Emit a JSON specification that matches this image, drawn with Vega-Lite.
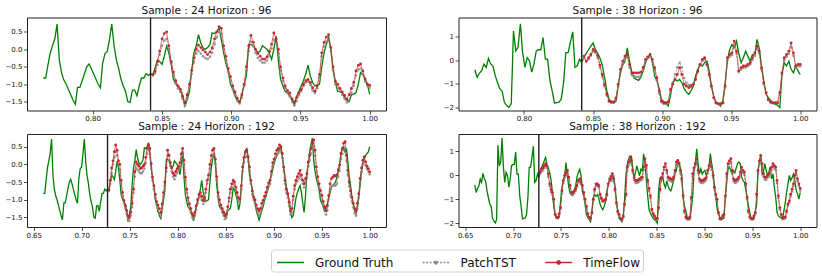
{
"$schema":"https://vega.github.io/schema/vega-lite/v6.json",
"padding":{"left":4,"top":4.5,"right":3,"bottom":2},
"config":{
"font":"DejaVu Sans",
"view":{"stroke":"#222","strokeWidth":1},
"axis":{"grid":false,"domain":false,"tickColor":"#222","tickSize":3.5,"tickWidth":0.8,"labelFontSize":7,"labelColor":"#111","labelPadding":1.5,"labelOverlap":false,"labelFlush":false},
"axisX":{"labelPadding":0.5},
"title":{"fontSize":10.5,"fontWeight":"normal","offset":0.5,"color":"#111"},
"legend":{"symbolType":"stroke","symbolSize":324,"symbolStrokeWidth":1.5,"symbolOffset":6.5,"labelFontSize":12,"labelColor":"#111","labelOffset":14.5,"columnPadding":25.6,"padding":3,"strokeColor":"#cfcfcf","cornerRadius":3,"fillColor":"white"}
},
"data":{"values":[
{"a":0.7644,"b":0.66,"g1":-0.82,"g2":-0.4},
{"a":0.7661,"b":0.6615,"g1":-0.82,"g2":-0.72},
{"a":0.7677,"b":0.6629,"g1":-0.45,"g2":-0.55},
{"a":0.7694,"b":0.6643,"g1":-0.1,"g2":-0.44},
{"a":0.771,"b":0.6657,"g1":0.1,"g2":-0.16},
{"a":0.7727,"b":0.6671,"g1":0.3,"g2":-0.3},
{"a":0.7743,"b":0.6686,"g1":0.72,"g2":0.08},
{"a":0.7759,"b":0.67,"g1":-0.3,"g2":-0.15},
{"a":0.7776,"b":0.6714,"g1":-0.68,"g2":-0.25},
{"a":0.7792,"b":0.6728,"g1":-0.88,"g2":-0.65},
{"a":0.7809,"b":0.6743,"g1":-1.0,"g2":-0.95},
{"a":0.7825,"b":0.6757,"g1":-1.15,"g2":-1.2},
{"a":0.7842,"b":0.6771,"g1":-1.3,"g2":-1.3},
{"a":0.7858,"b":0.6785,"g1":-1.45,"g2":-1.78},
{"a":0.7875,"b":0.6799,"g1":-1.57,"g2":-1.92},
{"a":0.7891,"b":0.6814,"g1":-1.09,"g2":-1.99},
{"a":0.7908,"b":0.6828,"g1":-1.09,"g2":-1.85},
{"a":0.7924,"b":0.6842,"g1":-0.9,"g2":1.25},
{"a":0.7941,"b":0.6856,"g1":-0.7,"g2":0.4},
{"a":0.7957,"b":0.6871,"g1":-0.5,"g2":0.55},
{"a":0.7974,"b":0.6885,"g1":-0.42,"g2":1.55},
{"a":0.799,"b":0.6899,"g1":-0.55,"g2":0.35},
{"a":0.8007,"b":0.6913,"g1":-0.7,"g2":-0.3},
{"a":0.8023,"b":0.6927,"g1":-0.85,"g2":0.12},
{"a":0.804,"b":0.6942,"g1":-1.0,"g2":-0.02},
{"a":0.8056,"b":0.6956,"g1":-1.1,"g2":-0.5},
{"a":0.8072,"b":0.697,"g1":-0.4,"g2":-0.16},
{"a":0.8089,"b":0.6984,"g1":-0.12,"g2":0.4},
{"a":0.8105,"b":0.6999,"g1":-0.07,"g2":0.45},
{"a":0.8122,"b":0.7013,"g1":0.3,"g2":0.45},
{"a":0.8138,"b":0.7027,"g1":0.72,"g2":0.97},
{"a":0.8155,"b":0.7041,"g1":0.1,"g2":0.05},
{"a":0.8171,"b":0.7055,"g1":-0.3,"g2":0.05},
{"a":0.8188,"b":0.707,"g1":-0.55,"g2":-0.86},
{"a":0.8204,"b":0.7084,"g1":-0.85,"g2":-1.29},
{"a":0.8221,"b":0.7098,"g1":-1.05,"g2":-1.82},
{"a":0.8237,"b":0.7112,"g1":-1.2,"g2":-1.8},
{"a":0.8254,"b":0.7127,"g1":-1.5,"g2":-1.78},
{"a":0.827,"b":0.7141,"g1":-1.52,"g2":-1.64},
{"a":0.8287,"b":0.7155,"g1":-1.17,"g2":-0.94},
{"a":0.8303,"b":0.7169,"g1":-1.16,"g2":0.33},
{"a":0.832,"b":0.7183,"g1":-1.33,"g2":0.33},
{"a":0.8336,"b":0.7198,"g1":-1.05,"g2":0.76},
{"a":0.8353,"b":0.7212,"g1":-0.82,"g2":1.21},
{"a":0.8369,"b":0.7226,"g1":-0.82,"g2":-0.3},
{"a":0.8386,"b":0.724,"g1":-0.7,"g2":-0.23},
{"a":0.8402,"b":0.7255,"g1":-0.75,"g2":0.05},
{"a":0.8418,"b":0.7269,"g1":-0.7,"g2":-0.09},
{"a":0.8435,"b":0.7283,"g1":-0.73,"p1":-0.75,"t1":-0.72,"q1":-0.75,"r1":-0.72,"g2":0.15,"p2":0.1,"t2":0.18,"q2":0.05,"r2":0.13},
{"a":0.8451,"b":0.7297,"g1":-0.53,"p1":-0.68,"t1":-0.62,"q1":-0.55,"r1":-0.45,"g2":0.3,"p2":-0.05,"t2":-0.03,"q2":0.15,"r2":0.27},
{"a":0.8468,"b":0.7312,"g1":-0.3,"p1":-0.45,"t1":-0.35,"q1":-0.25,"r1":-0.1,"g2":0.46,"p2":0.05,"t2":0.11,"q2":0.2,"r2":0.3},
{"a":0.8484,"b":0.7326,"g1":-0.35,"p1":-0.15,"t1":-0.05,"q1":0.0,"r1":0.1,"g2":0.6,"p2":0.2,"t2":0.25,"q2":0.3,"r2":0.4},
{"a":0.8501,"b":0.734,"g1":-0.43,"p1":0.1,"t1":0.3,"q1":0.2,"r1":0.36,"g2":0.74,"p2":0.38,"t2":0.46,"q2":0.38,"r2":0.48},
{"a":0.8517,"b":0.7354,"g1":-0.2,"p1":0.25,"t1":0.45,"q1":0.35,"r1":0.55,"g2":0.45,"p2":0.32,"t2":0.4,"q2":0.3,"r2":0.4},
{"a":0.8534,"b":0.7368,"g1":0.09,"p1":0.3,"t1":0.5,"q1":0.25,"r1":0.4,"g2":0.3,"p2":0.1,"t2":0.2,"q2":-0.05,"r2":0.06},
{"a":0.855,"b":0.7383,"g1":-0.1,"p1":0.0,"t1":0.1,"q1":0.0,"r1":0.1,"g2":0.1,"p2":-0.3,"t2":-0.2,"q2":-0.45,"r2":-0.36},
{"a":0.8567,"b":0.7397,"g1":-0.43,"p1":-0.4,"t1":-0.35,"q1":-0.15,"r1":0.0,"g2":-0.2,"p2":-0.7,"t2":-0.6,"q2":-0.7,"r2":-0.6},
{"a":0.8583,"b":0.7411,"g1":-0.86,"p1":-0.72,"t1":-0.65,"q1":-0.55,"r1":-0.45,"g2":-0.7,"p2":-1.1,"t2":-1.02,"q2":-0.82,"r2":-0.72},
{"a":0.86,"b":0.7425,"g1":-0.98,"p1":-0.98,"t1":-0.9,"q1":-0.88,"r1":-0.79,"g2":-1.3,"p2":-1.5,"t2":-1.44,"q2":-1.1,"r2":-1.0},
{"a":0.8616,"b":0.744,"g1":-1.05,"p1":-1.12,"t1":-1.05,"q1":-1.1,"r1":-1.02,"g2":-1.66,"p2":-1.75,"t2":-1.73,"q2":-1.65,"r2":-1.63},
{"a":0.8633,"b":0.7454,"g1":-1.12,"p1":-1.22,"t1":-1.15,"q1":-1.25,"r1":-1.17,"g2":-1.75,"p2":-1.8,"t2":-1.77,"q2":-1.78,"r2":-1.74},
{"a":0.8649,"b":0.7468,"g1":-1.3,"p1":-1.42,"t1":-1.35,"q1":-1.4,"r1":-1.3,"g2":-1.75,"p2":-1.8,"t2":-1.77,"q2":-1.8,"r2":-1.77},
{"a":0.8666,"b":0.7482,"g1":-1.62,"p1":-1.6,"t1":-1.52,"q1":-1.55,"r1":-1.45,"g2":-1.75,"p2":-1.65,"t2":-1.6,"q2":-1.65,"r2":-1.6},
{"a":0.8682,"b":0.7496,"g1":-1.45,"p1":-1.4,"t1":-1.3,"q1":-1.6,"r1":-1.5,"g2":-1.1,"p2":-1.1,"t2":-1.02,"q2":-1.4,"r2":-1.35},
{"a":0.8699,"b":0.7511,"g1":-1.2,"p1":-1.08,"t1":-1.0,"q1":-1.45,"r1":-1.35,"g2":-0.5,"p2":-0.5,"t2":-0.38,"q2":-0.75,"r2":-0.65},
{"a":0.8715,"b":0.7525,"g1":-0.6,"p1":-0.7,"t1":-0.6,"q1":-1.2,"r1":-1.1,"g2":-0.2,"p2":-0.15,"t2":-0.03,"q2":-0.32,"r2":-0.22},
{"a":0.8731,"b":0.7539,"g1":-0.1,"p1":-0.38,"t1":-0.25,"q1":-0.8,"r1":-0.7,"g2":-0.05,"p2":0.05,"t2":0.18,"q2":-0.1,"r2":-0.01},
{"a":0.8748,"b":0.7553,"g1":0.1,"p1":-0.12,"t1":0.0,"q1":-0.35,"r1":-0.2,"g2":0.53,"p2":0.12,"t2":0.25,"q2":0.0,"r2":0.1},
{"a":0.8764,"b":0.7568,"g1":0.42,"p1":-0.05,"t1":0.12,"q1":-0.1,"r1":0.07,"g2":-0.03,"p2":-0.3,"t2":-0.17,"q2":0.08,"r2":0.2},
{"a":0.8781,"b":0.7582,"g1":0.18,"p1":-0.12,"t1":0.05,"q1":-0.15,"r1":0.0,"g2":-0.5,"p2":-0.62,"t2":-0.53,"q2":-0.2,"r2":-0.08},
{"a":0.8797,"b":0.7596,"g1":0.04,"p1":-0.2,"t1":-0.02,"q1":-0.2,"r1":-0.05,"g2":-0.75,"p2":-0.68,"t2":-0.53,"q2":-0.55,"r2":-0.43},
{"a":0.8814,"b":0.761,"g1":0.0,"p1":-0.25,"t1":-0.08,"q1":-0.25,"r1":-0.12,"g2":-0.81,"p2":-0.7,"t2":-0.53,"q2":-0.8,"r2":-0.72},
{"a":0.883,"b":0.7624,"g1":0.05,"p1":-0.28,"t1":-0.15,"q1":-0.25,"r1":-0.1,"g2":-0.85,"p2":-0.7,"t2":-0.53,"q2":-0.82,"r2":-0.72},
{"a":0.8847,"b":0.7639,"g1":0.14,"p1":-0.22,"t1":-0.08,"q1":-0.2,"r1":-0.05,"g2":-0.7,"p2":-0.62,"t2":-0.5,"q2":-0.75,"r2":-0.65},
{"a":0.8863,"b":0.7653,"g1":0.47,"p1":-0.1,"t1":0.04,"q1":-0.12,"r1":0.0,"g2":-0.45,"p2":-0.4,"t2":-0.3,"q2":-0.66,"r2":-0.58},
{"a":0.888,"b":0.7667,"g1":0.45,"p1":0.15,"t1":0.3,"q1":0.05,"r1":0.2,"g2":-0.1,"p2":-0.05,"t2":0.04,"q2":-0.5,"r2":-0.43},
{"a":0.8896,"b":0.7681,"g1":0.5,"p1":0.35,"t1":0.5,"q1":0.3,"r1":0.45,"g2":0.11,"p2":0.08,"t2":0.15,"q2":-0.3,"r2":-0.22},
{"a":0.8913,"b":0.7696,"g1":0.61,"p1":0.5,"t1":0.65,"q1":0.4,"r1":0.55,"g2":0.25,"p2":0.15,"t2":0.25,"q2":-0.25,"r2":-0.15},
{"a":0.8929,"b":0.771,"g1":0.28,"p1":0.45,"t1":0.6,"q1":0.3,"r1":0.45,"g2":-0.03,"p2":-0.05,"t2":0.04,"q2":-0.38,"r2":-0.3},
{"a":0.8946,"b":0.7724,"g1":-0.1,"p1":0.0,"t1":0.1,"q1":-0.1,"r1":0.02,"g2":-0.67,"p2":-0.4,"t2":-0.31,"q2":-0.52,"r2":-0.43},
{"a":0.8962,"b":0.7738,"g1":-0.4,"p1":-0.32,"t1":-0.2,"q1":-0.45,"r1":-0.36,"g2":-0.85,"p2":-0.85,"t2":-0.74,"q2":-0.8,"r2":-0.72},
{"a":0.8979,"b":0.7752,"g1":-0.62,"p1":-0.65,"t1":-0.55,"q1":-0.7,"r1":-0.6,"g2":-1.2,"p2":-1.4,"t2":-1.3,"q2":-1.08,"r2":-1.0},
{"a":0.8995,"b":0.7767,"g1":-1.0,"p1":-0.9,"t1":-0.78,"q1":-0.95,"r1":-0.85,"g2":-1.66,"p2":-1.78,"t2":-1.73,"q2":-1.38,"r2":-1.3},
{"a":0.9012,"b":0.7781,"g1":-1.15,"p1":-1.15,"t1":-1.05,"q1":-1.15,"r1":-1.05,"g2":-1.75,"p2":-1.85,"t2":-1.8,"q2":-1.65,"r2":-1.6},
{"a":0.9028,"b":0.7795,"g1":-1.34,"p1":-1.3,"t1":-1.22,"q1":-1.25,"r1":-1.15,"g2":-1.85,"p2":-1.85,"t2":-1.8,"q2":-1.8,"r2":-1.75},
{"a":0.9044,"b":0.7809,"g1":-1.45,"p1":-1.48,"t1":-1.4,"q1":-1.38,"r1":-1.25,"g2":-1.94,"p2":-1.8,"t2":-1.77,"q2":-1.85,"r2":-1.8},
{"a":0.9061,"b":0.7824,"g1":-1.53,"p1":-1.55,"t1":-1.5,"q1":-1.48,"r1":-1.36,"g2":-1.5,"p2":-1.3,"t2":-1.23,"q2":-1.6,"r2":-1.56},
{"a":0.9077,"b":0.7838,"g1":-1.29,"p1":-1.38,"t1":-1.3,"q1":-1.25,"r1":-1.12,"g2":-0.95,"p2":-0.95,"t2":-1.02,"q2":-1.05,"r2":-1.0},
{"a":0.9094,"b":0.7852,"g1":-1.0,"p1":-1.05,"t1":-1.0,"q1":-0.9,"r1":-0.8,"g2":-0.81,"p2":-0.6,"t2":-0.81,"q2":-0.65,"r2":-0.58},
{"a":0.911,"b":0.7866,"g1":-0.75,"p1":-0.6,"t1":-0.5,"q1":-0.6,"r1":-0.5,"g2":-0.88,"p2":-0.3,"t2":-0.6,"q2":-0.45,"r2":-0.36},
{"a":0.9127,"b":0.7881,"g1":0.14,"p1":-0.05,"t1":0.1,"q1":-0.2,"r1":-0.1,"g2":-0.81,"p2":-0.1,"t2":-0.31,"q2":-0.45,"r2":-0.36},
{"a":0.9143,"b":0.7895,"g1":0.14,"p1":0.22,"t1":0.4,"q1":0.25,"r1":0.4,"g2":-0.95,"p2":-0.3,"t2":-0.6,"q2":-0.5,"r2":-0.43},
{"a":0.916,"b":0.7909,"g1":0.1,"p1":0.1,"t1":0.2,"q1":0.12,"r1":0.26,"g2":-1.2,"p2":-0.75,"t2":-1.02,"q2":-0.85,"r2":-0.79},
{"a":0.9176,"b":0.7923,"g1":0.0,"p1":-0.1,"t1":0.0,"q1":-0.05,"r1":0.05,"g2":-1.35,"p2":-0.95,"t2":-1.09,"q2":-1.0,"r2":-0.95},
{"a":0.9193,"b":0.7937,"g1":-0.1,"p1":-0.25,"t1":-0.12,"q1":-0.2,"r1":-0.1,"g2":-1.44,"p2":-1.05,"t2":-1.16,"q2":-1.1,"r2":-1.07},
{"a":0.9209,"b":0.7952,"g1":-0.05,"p1":-0.32,"t1":-0.2,"q1":-0.35,"r1":-0.25,"g2":-1.3,"p2":-1.05,"t2":-1.1,"q2":-1.1,"r2":-1.05},
{"a":0.9226,"b":0.7966,"g1":0.1,"p1":-0.38,"t1":-0.28,"q1":-0.42,"r1":-0.31,"g2":-1.09,"p2":-1.0,"t2":-1.02,"q2":-1.05,"r2":-1.0},
{"a":0.9242,"b":0.798,"g1":0.05,"p1":-0.38,"t1":-0.28,"q1":-0.32,"r1":-0.2,"g2":-0.67,"p2":-0.82,"t2":-0.81,"q2":-0.85,"r2":-0.8},
{"a":0.9259,"b":0.7994,"g1":0.0,"p1":-0.32,"t1":-0.22,"q1":-0.25,"r1":-0.12,"g2":-0.38,"p2":-0.5,"t2":-0.45,"q2":-0.45,"r2":-0.36},
{"a":0.9275,"b":0.8009,"g1":-0.1,"p1":-0.18,"t1":-0.05,"q1":-0.18,"r1":-0.05,"g2":-0.17,"p2":-0.22,"t2":-0.17,"q2":-0.25,"r2":-0.15},
{"a":0.9292,"b":0.8023,"g1":-0.29,"p1":0.02,"t1":0.15,"q1":-0.08,"r1":0.05,"g2":-0.24,"p2":-0.02,"t2":0.04,"q2":-0.15,"r2":-0.05},
{"a":0.9308,"b":0.8037,"g1":0.0,"p1":0.28,"t1":0.47,"q1":0.15,"r1":0.3,"g2":-0.1,"p2":0.05,"t2":0.11,"q2":-0.05,"r2":0.06},
{"a":0.9325,"b":0.8051,"g1":0.38,"p1":0.18,"t1":0.3,"q1":0.3,"r1":0.45,"g2":-0.03,"p2":-0.22,"t2":-0.17,"q2":-0.25,"r2":-0.15},
{"a":0.9341,"b":0.8065,"g1":-0.34,"p1":-0.12,"t1":0.0,"q1":0.0,"r1":0.12,"g2":-0.45,"p2":-0.65,"t2":-0.6,"q2":-0.65,"r2":-0.58},
{"a":0.9357,"b":0.808,"g1":-0.86,"p1":-0.6,"t1":-0.5,"q1":-0.45,"r1":-0.36,"g2":-1.09,"p2":-1.12,"t2":-1.09,"q2":-1.2,"r2":-1.14},
{"a":0.9374,"b":0.8094,"g1":-1.05,"p1":-0.9,"t1":-0.82,"q1":-0.8,"r1":-0.7,"g2":-1.51,"p2":-1.6,"t2":-1.58,"q2":-1.55,"r2":-1.5},
{"a":0.939,"b":0.8108,"g1":-1.2,"p1":-1.12,"t1":-1.05,"q1":-1.05,"r1":-0.95,"g2":-1.8,"p2":-1.82,"t2":-1.8,"q2":-1.7,"r2":-1.63},
{"a":0.9407,"b":0.8122,"g1":-1.25,"p1":-1.25,"t1":-1.18,"q1":-1.22,"r1":-1.12,"g2":-1.84,"p2":-1.86,"t2":-1.84,"q2":-1.84,"r2":-1.8},
{"a":0.9423,"b":0.8137,"g1":-1.34,"p1":-1.35,"t1":-1.25,"q1":-1.35,"r1":-1.25,"g2":-1.94,"p2":-1.86,"t2":-1.84,"q2":-1.88,"r2":-1.84},
{"a":0.944,"b":0.8151,"g1":-1.45,"p1":-1.5,"t1":-1.42,"q1":-1.5,"r1":-1.4,"g2":-1.73,"p2":-1.82,"t2":-1.8,"q2":-1.75,"r2":-1.7},
{"a":0.9456,"b":0.8165,"g1":-1.6,"p1":-1.6,"t1":-1.5,"q1":-1.55,"r1":-1.45,"g2":-1.0,"p2":-1.15,"t2":-1.09,"q2":-1.25,"r2":-1.2},
{"a":0.9473,"b":0.8179,"g1":-1.35,"p1":-1.48,"t1":-1.38,"q1":-1.45,"r1":-1.36,"g2":0.0,"p2":0.0,"t2":0.11,"q2":-0.85,"r2":-0.79},
{"a":0.9489,"b":0.8193,"g1":-1.2,"p1":-1.32,"t1":-1.25,"q1":-1.28,"r1":-1.17,"g2":0.45,"p2":0.15,"t2":0.25,"q2":0.2,"r2":0.34},
{"a":0.9506,"b":0.8208,"g1":-1.05,"p1":-1.2,"t1":-1.15,"q1":-1.1,"r1":-1.0,"g2":0.67,"p2":0.22,"t2":0.32,"q2":0.42,"r2":0.55},
{"a":0.9522,"b":0.8222,"g1":-0.9,"p1":-1.05,"t1":-1.0,"q1":-0.95,"r1":-0.85,"g2":0.53,"p2":0.6,"t2":0.82,"q2":0.62,"r2":0.76},
{"a":0.9539,"b":0.8236,"g1":-0.7,"p1":-0.95,"t1":-0.9,"q1":-0.9,"r1":-0.8,"g2":0.82,"p2":0.3,"t2":0.39,"q2":0.5,"r2":0.62},
{"a":0.9555,"b":0.825,"g1":-0.45,"p1":-0.92,"t1":-0.86,"q1":-1.0,"r1":-0.9,"g2":0.3,"p2":-0.5,"t2":-0.45,"q2":0.1,"r2":0.2},
{"a":0.9572,"b":0.8265,"g1":-0.77,"p1":-1.02,"t1":-0.95,"q1":-1.12,"r1":-1.02,"g2":-0.1,"p2":-0.4,"t2":-0.31,"q2":-0.2,"r2":-0.1},
{"a":0.9588,"b":0.8279,"g1":-0.95,"p1":-1.18,"t1":-1.1,"q1":-1.05,"r1":-0.95,"g2":0.11,"p2":-0.32,"t2":-0.24,"q2":-0.32,"r2":-0.22},
{"a":0.9605,"b":0.8293,"g1":-1.05,"p1":-1.25,"t1":-1.2,"q1":-0.8,"r1":-0.7,"g2":0.39,"p2":-0.3,"t2":-0.24,"q2":-0.32,"r2":-0.22},
{"a":0.9621,"b":0.8307,"g1":-1.02,"p1":-1.12,"t1":-1.05,"q1":-0.55,"r1":-0.45,"g2":0.18,"p2":-0.25,"t2":-0.17,"q2":-0.3,"r2":-0.2},
{"a":0.9638,"b":0.8321,"g1":-1.0,"p1":-0.8,"t1":-0.72,"q1":-0.4,"r1":-0.3,"g2":-0.03,"p2":-0.18,"t2":-0.1,"q2":-0.25,"r2":-0.15},
{"a":0.9654,"b":0.8336,"g1":-0.5,"p1":-0.2,"t1":-0.1,"q1":-0.12,"r1":0.0,"g2":0.25,"p2":0.02,"t2":0.11,"q2":-0.2,"r2":-0.1},
{"a":0.9671,"b":0.835,"g1":-0.1,"p1":0.08,"t1":0.2,"q1":0.1,"r1":0.25,"g2":0.18,"p2":0.22,"t2":0.32,"q2":-0.18,"r2":-0.08},
{"a":0.9687,"b":0.8364,"g1":0.14,"p1":0.22,"t1":0.35,"q1":0.25,"r1":0.4,"g2":0.89,"p2":0.5,"t2":0.6,"q2":0.22,"r2":0.34},
{"a":0.9703,"b":0.8378,"g1":0.33,"p1":0.28,"t1":0.42,"q1":0.3,"r1":0.45,"g2":0.53,"p2":0.3,"t2":0.39,"q2":0.55,"r2":0.69},
{"a":0.972,"b":0.8393,"g1":0.0,"p1":-0.05,"t1":0.05,"q1":0.02,"r1":0.15,"g2":-0.24,"p2":-0.38,"t2":-0.31,"q2":0.3,"r2":0.41},
{"a":0.9736,"b":0.8407,"g1":-0.6,"p1":-0.6,"t1":-0.5,"q1":-0.45,"r1":-0.35,"g2":-0.88,"p2":-1.0,"t2":-0.95,"q2":-0.32,"r2":-0.22},
{"a":0.9753,"b":0.8421,"g1":-0.95,"p1":-1.0,"t1":-0.92,"q1":-0.9,"r1":-0.8,"g2":-1.44,"p2":-1.42,"t2":-1.37,"q2":-0.65,"r2":-0.55},
{"a":0.9769,"b":0.8435,"g1":-1.2,"p1":-1.1,"t1":-1.0,"q1":-1.1,"r1":-1.0,"g2":-1.58,"p2":-1.7,"t2":-1.66,"q2":-0.95,"r2":-0.86},
{"a":0.9786,"b":0.845,"g1":-1.22,"p1":-1.2,"t1":-1.12,"q1":-1.25,"r1":-1.15,"g2":-1.7,"p2":-1.8,"t2":-1.77,"q2":-1.48,"r2":-1.42},
{"a":0.9802,"b":0.8464,"g1":-1.24,"p1":-1.3,"t1":-1.22,"q1":-1.35,"r1":-1.25,"g2":-1.8,"p2":-1.82,"t2":-1.8,"q2":-1.65,"r2":-1.6},
{"a":0.9819,"b":0.8478,"g1":-1.38,"p1":-1.42,"t1":-1.32,"q1":-1.45,"r1":-1.35,"g2":-1.87,"p2":-1.82,"t2":-1.8,"q2":-1.75,"r2":-1.7},
{"a":0.9835,"b":0.8492,"g1":-1.45,"p1":-1.52,"t1":-1.42,"q1":-1.55,"r1":-1.45,"g2":-1.9,"p2":-1.82,"t2":-1.8,"q2":-1.84,"r2":-1.8},
{"a":0.9852,"b":0.8506,"g1":-1.5,"p1":-1.45,"t1":-1.3,"q1":-1.5,"r1":-1.4,"g2":-2.0,"p2":-1.45,"t2":-1.37,"q2":-1.84,"r2":-1.8},
{"a":0.9868,"b":0.8521,"g1":-1.3,"p1":-1.25,"t1":-1.12,"q1":-1.3,"r1":-1.2,"g2":-0.6,"p2":-0.6,"t2":-0.53,"q2":-1.4,"r2":-1.35},
{"a":0.9885,"b":0.8535,"g1":-1.28,"p1":-1.05,"t1":-0.95,"q1":-1.05,"r1":-0.95,"g2":-0.1,"p2":0.02,"t2":0.11,"q2":-0.65,"r2":-0.58},
{"a":0.9901,"b":0.8549,"g1":-1.24,"p1":-0.75,"t1":-0.62,"q1":-0.8,"r1":-0.7,"g2":-0.24,"p2":0.15,"t2":0.25,"q2":-0.2,"r2":-0.1},
{"a":0.9918,"b":0.8563,"g1":-1.0,"p1":-0.58,"t1":-0.46,"q1":-0.65,"r1":-0.55,"g2":-0.03,"p2":0.28,"t2":0.39,"q2":-0.05,"r2":0.06},
{"a":0.9934,"b":0.8578,"g1":-0.67,"p1":-0.55,"t1":-0.42,"q1":-0.55,"r1":-0.45,"g2":-0.38,"p2":0.55,"t2":0.74,"q2":0.22,"r2":0.34},
{"a":0.9951,"b":0.8592,"g1":-0.72,"p1":-0.72,"t1":-0.62,"q1":-0.6,"r1":-0.5,"g2":-0.53,"p2":0.2,"t2":0.32,"q2":0.35,"r2":0.48},
{"a":0.9967,"b":0.8606,"g1":-0.85,"p1":-0.92,"t1":-0.85,"q1":-0.75,"r1":-0.65,"g2":-0.24,"p2":-0.3,"t2":-0.24,"q2":0.1,"r2":0.2},
{"a":0.9984,"b":0.862,"g1":-1.0,"p1":-1.05,"t1":-1.0,"q1":-0.9,"r1":-0.8,"g2":-0.45,"p2":-0.25,"t2":-0.17,"q2":-0.18,"r2":-0.08},
{"a":1.0,"b":0.8634,"g1":-1.29,"p1":-1.1,"t1":-1.03,"q1":-1.05,"r1":-0.95,"g2":-0.6,"p2":-0.25,"t2":-0.17,"q2":-0.22,"r2":-0.12},
{"b":0.8649,"g1":-1.1,"q1":-1.08,"r1":-0.98,"g2":-0.65,"q2":-0.25,"r2":-0.15},
{"b":0.8663,"g1":-0.6,"q1":-0.7,"r1":-0.6,"g2":-0.45,"q2":-0.28,"r2":-0.18},
{"b":0.8677,"g1":-0.1,"q1":-0.2,"r1":-0.07,"g2":-0.22,"q2":-0.18,"r2":-0.08},
{"b":0.8691,"g1":0.2,"q1":0.05,"r1":0.2,"g2":0.05,"q2":0.1,"r2":0.2},
{"b":0.8706,"g1":0.4,"q1":0.2,"r1":0.35,"g2":0.2,"q2":0.42,"r2":0.55},
{"b":0.872,"g1":0.45,"q1":0.25,"r1":0.4,"g2":0.55,"q2":0.5,"r2":0.62},
{"b":0.8734,"g1":0.2,"q1":0.08,"r1":0.21,"g2":0.55,"q2":0.38,"r2":0.5},
{"b":0.8748,"g1":-0.3,"q1":-0.18,"r1":-0.07,"g2":0.3,"q2":0.08,"r2":0.2},
{"b":0.8762,"g1":-0.5,"q1":-0.55,"r1":-0.45,"g2":0.05,"q2":-0.25,"r2":-0.15},
{"b":0.8777,"g1":-0.7,"q1":-0.85,"r1":-0.75,"g2":-0.93,"q2":-0.95,"r2":-0.86},
{"b":0.8791,"g1":-0.95,"q1":-1.0,"r1":-0.92,"g2":-1.3,"q2":-1.55,"r2":-1.49},
{"b":0.8805,"g1":-1.1,"q1":-1.1,"r1":-1.0,"g2":-1.49,"q2":-1.78,"r2":-1.74},
{"b":0.8819,"g1":-1.3,"q1":-1.25,"r1":-1.15,"g2":-1.75,"q2":-1.84,"r2":-1.8},
{"b":0.8834,"g1":-1.45,"q1":-1.38,"r1":-1.26,"g2":-1.8,"q2":-1.85,"r2":-1.8},
{"b":0.8848,"g1":-1.58,"q1":-1.45,"r1":-1.31,"g2":-1.84,"q2":-1.8,"r2":-1.74},
{"b":0.8862,"g1":-1.45,"q1":-1.38,"r1":-1.25,"g2":-1.4,"q2":-1.0,"r2":-0.93},
{"b":0.8876,"g1":-1.3,"q1":-1.22,"r1":-1.1,"g2":-0.93,"q2":-0.05,"r2":0.06},
{"b":0.889,"g1":-1.2,"q1":-1.12,"r1":-1.02,"g2":0.13,"q2":0.2,"r2":0.3},
{"b":0.8905,"g1":-1.0,"q1":-1.0,"r1":-0.9,"g2":0.55,"q2":0.38,"r2":0.48},
{"b":0.8919,"g1":-0.9,"q1":-0.9,"r1":-0.79,"g2":1.1,"q2":0.55,"r2":0.69},
{"b":0.8933,"g1":-0.75,"q1":-0.75,"r1":-0.65,"g2":0.5,"q2":0.1,"r2":0.2},
{"b":0.8947,"g1":-0.64,"q1":-0.62,"r1":-0.52,"g2":0.05,"q2":-0.25,"r2":-0.15},
{"b":0.8962,"g1":-0.45,"q1":-0.55,"r1":-0.45,"g2":0.27,"q2":-0.32,"r2":-0.22},
{"b":0.8976,"g1":-0.3,"q1":-0.3,"r1":-0.2,"g2":0.05,"q2":-0.32,"r2":-0.22},
{"b":0.899,"g1":-0.15,"q1":-0.05,"r1":0.05,"g2":0.15,"q2":-0.3,"r2":-0.2},
{"b":0.9004,"g1":0.02,"q1":0.05,"r1":0.15,"g2":0.2,"q2":-0.25,"r2":-0.15},
{"b":0.9018,"g1":0.15,"q1":0.18,"r1":0.3,"g2":-0.01,"q2":-0.2,"r2":-0.1},
{"b":0.9033,"g1":0.25,"q1":0.28,"r1":0.4,"g2":0.15,"q2":0.08,"r2":0.2},
{"b":0.9047,"g1":0.31,"q1":0.32,"r1":0.45,"g2":0.34,"q2":0.28,"r2":0.4},
{"b":0.9061,"g1":0.45,"q1":0.4,"r1":0.55,"g2":0.9,"q2":0.42,"r2":0.55},
{"b":0.9075,"g1":0.5,"q1":0.35,"r1":0.5,"g2":0.48,"q2":0.22,"r2":0.34},
{"b":0.909,"g1":0.2,"q1":0.18,"r1":0.31,"g2":0.1,"q2":-0.12,"r2":-0.01},
{"b":0.9104,"g1":-0.07,"q1":-0.18,"r1":-0.07,"g2":-0.5,"q2":-0.6,"r2":-0.5},
{"b":0.9118,"g1":-0.35,"q1":-0.55,"r1":-0.45,"g2":-0.93,"q2":-0.9,"r2":-0.8},
{"b":0.9132,"g1":-0.64,"q1":-0.8,"r1":-0.7,"g2":-1.4,"q2":-1.1,"r2":-1.0},
{"b":0.9147,"g1":-0.85,"q1":-0.95,"r1":-0.83,"g2":-1.63,"q2":-1.62,"r2":-1.56},
{"b":0.9161,"g1":-1.0,"q1":-1.18,"r1":-1.07,"g2":-1.75,"q2":-1.84,"r2":-1.8},
{"b":0.9175,"g1":-1.3,"q1":-1.42,"r1":-1.31,"g2":-1.84,"q2":-1.85,"r2":-1.8},
{"b":0.9189,"g1":-1.5,"q1":-1.38,"r1":-1.25,"g2":-1.82,"q2":-1.75,"r2":-1.7},
{"b":0.9203,"g1":-1.45,"q1":-1.0,"r1":-0.9,"g2":-1.8,"q2":-1.68,"r2":-1.63},
{"b":0.9218,"g1":-1.2,"q1":-0.7,"r1":-0.6,"g2":-0.93,"q2":-0.95,"r2":-0.86},
{"b":0.9232,"g1":-0.95,"q1":-0.55,"r1":-0.45,"g2":-0.3,"q2":-0.05,"r2":0.06},
{"b":0.9246,"g1":-0.8,"q1":-0.48,"r1":-0.35,"g2":0.27,"q2":0.35,"r2":0.48},
{"b":0.926,"g1":-0.69,"q1":-0.4,"r1":-0.26,"g2":0.34,"q2":0.48,"r2":0.6},
{"b":0.9275,"g1":-0.6,"q1":-0.32,"r1":-0.17,"g2":0.2,"q2":0.55,"r2":0.69},
{"b":0.9289,"g1":-0.8,"q1":-0.42,"r1":-0.3,"g2":0.05,"q2":0.1,"r2":0.2},
{"b":0.9303,"g1":-1.1,"q1":-0.55,"r1":-0.45,"g2":0.2,"q2":-0.25,"r2":-0.15},
{"b":0.9317,"g1":-1.36,"q1":-0.65,"r1":-0.55,"g2":0.1,"q2":-0.32,"r2":-0.22},
{"b":0.9331,"g1":-0.9,"q1":-0.52,"r1":-0.4,"g2":0.3,"q2":-0.3,"r2":-0.2},
{"b":0.9346,"g1":-0.26,"q1":-0.38,"r1":-0.26,"g2":0.5,"q2":-0.25,"r2":-0.15},
{"b":0.936,"g1":0.0,"q1":-0.05,"r1":0.07,"g2":0.55,"q2":-0.18,"r2":-0.08},
{"b":0.9374,"g1":0.31,"q1":0.12,"r1":0.26,"g2":0.48,"q2":0.02,"r2":0.13},
{"b":0.9388,"g1":0.55,"q1":0.3,"r1":0.45,"g2":-0.08,"q2":0.22,"r2":0.34},
{"b":0.9403,"g1":0.74,"q1":0.45,"r1":0.6,"g2":-0.22,"q2":0.1,"r2":0.2},
{"b":0.9417,"g1":0.12,"q1":0.52,"r1":0.69,"g2":-0.3,"q2":0.02,"r2":0.13},
{"b":0.9431,"g1":-0.2,"q1":0.25,"r1":0.4,"g2":-0.6,"q2":-0.45,"r2":-0.36},
{"b":0.9445,"g1":-0.4,"q1":-0.2,"r1":-0.07,"g2":-0.93,"q2":-1.0,"r2":-0.93},
{"b":0.9459,"g1":-0.55,"q1":-0.48,"r1":-0.35,"g2":-1.3,"q2":-1.55,"r2":-1.49},
{"b":0.9474,"g1":-0.75,"q1":-0.68,"r1":-0.55,"g2":-1.56,"q2":-1.78,"r2":-1.74},
{"b":0.9488,"g1":-1.02,"q1":-0.85,"r1":-0.74,"g2":-1.84,"q2":-1.84,"r2":-1.8},
{"b":0.9502,"g1":-1.1,"q1":-1.0,"r1":-0.88,"g2":-1.84,"q2":-1.85,"r2":-1.8},
{"b":0.9516,"g1":-1.2,"q1":-1.15,"r1":-1.05,"g2":-1.84,"q2":-1.75,"r2":-1.7},
{"b":0.9531,"g1":-1.31,"q1":-1.3,"r1":-1.2,"g2":-1.5,"q2":-1.62,"r2":-1.56},
{"b":0.9545,"g1":-1.2,"q1":-1.42,"r1":-1.31,"g2":-1.21,"q2":-0.88,"r2":-0.79},
{"b":0.9559,"g1":-1.12,"q1":-1.3,"r1":-1.17,"g2":0.2,"q2":0.08,"r2":0.2},
{"b":0.9573,"g1":-0.95,"q1":-1.0,"r1":-0.88,"g2":0.5,"q2":0.48,"r2":0.6},
{"b":0.9587,"g1":-0.8,"q1":-0.72,"r1":-0.55,"g2":0.83,"q2":0.7,"r2":0.83},
{"b":0.9602,"g1":-0.64,"q1":-0.62,"r1":-0.4,"g2":0.05,"q2":0.36,"r2":0.48},
{"b":0.9616,"g1":-0.6,"q1":-0.6,"r1":-0.36,"g2":0.13,"q2":-0.05,"r2":0.06},
{"b":0.963,"g1":-0.55,"q1":-0.58,"r1":-0.31,"g2":0.48,"q2":-0.18,"r2":-0.08},
{"b":0.9644,"g1":-0.5,"q1":-0.6,"r1":-0.33,"g2":0.2,"q2":-0.2,"r2":-0.08},
{"b":0.9659,"g1":-0.36,"q1":-0.55,"r1":-0.3,"g2":-0.01,"q2":-0.1,"r2":0.0},
{"b":0.9673,"g1":-0.2,"q1":-0.35,"r1":-0.15,"g2":0.15,"q2":-0.05,"r2":0.06},
{"b":0.9687,"g1":0.0,"q1":-0.18,"r1":-0.02,"g2":0.34,"q2":0.15,"r2":0.27},
{"b":0.9701,"g1":0.31,"q1":0.15,"r1":0.31,"g2":-0.15,"q2":0.22,"r2":0.34},
{"b":0.9716,"g1":0.45,"q1":0.3,"r1":0.45,"g2":0.05,"q2":0.36,"r2":0.48},
{"b":0.973,"g1":0.5,"q1":0.42,"r1":0.6,"g2":-0.5,"q2":0.28,"r2":0.4},
{"b":0.9744,"g1":0.35,"q1":0.45,"r1":0.64,"g2":-0.93,"q2":0.22,"r2":0.34},
{"b":0.9758,"g1":0.45,"q1":0.1,"r1":0.26,"g2":-1.56,"q2":-0.32,"r2":-0.22},
{"b":0.9772,"g1":0.1,"q1":-0.3,"r1":-0.17,"g2":-1.7,"q2":-0.95,"r2":-0.86},
{"b":0.9787,"g1":-0.36,"q1":-0.62,"r1":-0.5,"g2":-1.75,"q2":-1.42,"r2":-1.35},
{"b":0.9801,"g1":-0.6,"q1":-0.88,"r1":-0.75,"g2":-1.77,"q2":-1.68,"r2":-1.63},
{"b":0.9815,"g1":-0.93,"q1":-1.05,"r1":-0.93,"g2":-1.84,"q2":-1.82,"r2":-1.77},
{"b":0.9829,"g1":-1.1,"q1":-1.22,"r1":-1.1,"g2":-1.5,"q2":-1.82,"r2":-1.76},
{"b":0.9844,"g1":-1.3,"q1":-1.38,"r1":-1.25,"g2":-1.14,"q2":-1.8,"r2":-1.74},
{"b":0.9858,"g1":-1.4,"q1":-1.45,"r1":-1.31,"g2":-0.7,"q2":-1.55,"r2":-1.49},
{"b":0.9872,"g1":-1.2,"q1":-1.25,"r1":-1.1,"g2":-0.36,"q2":-1.28,"r2":-1.2},
{"b":0.9886,"g1":-0.93,"q1":-0.95,"r1":-0.83,"g2":-0.01,"q2":-1.15,"r2":-1.07},
{"b":0.99,"g1":-0.6,"q1":-0.52,"r1":-0.4,"g2":-0.22,"q2":-0.88,"r2":-0.79},
{"b":0.9915,"g1":-0.2,"q1":-0.22,"r1":-0.1,"g2":-0.1,"q2":-0.68,"r2":-0.58},
{"b":0.9929,"g1":0.02,"q1":0.0,"r1":0.12,"g2":0.05,"q2":-0.45,"r2":-0.36},
{"b":0.9943,"g1":0.15,"q1":0.08,"r1":0.21,"g2":-0.2,"q2":-0.1,"r2":0.0},
{"b":0.9957,"g1":0.26,"q1":-0.02,"r1":0.07,"g2":-0.6,"q2":0.1,"r2":0.2},
{"b":0.9972,"g1":0.31,"q1":-0.12,"r1":-0.05,"g2":-0.79,"q2":-0.25,"r2":-0.15},
{"b":0.9986,"g1":0.35,"q1":-0.2,"r1":-0.12,"g2":-1.0,"q2":-0.45,"r2":-0.36},
{"b":1.0,"g1":0.5,"q1":-0.28,"r1":-0.21,"g2":-0.72,"q2":-0.65,"r2":-0.55}
]},
"columns":2,
"spacing":{"row":-1.5,"column":55.5},
"resolve":{"scale":{"x":"independent","y":"independent","color":"shared"}},
"concat":[
{"title":"Sample : 24 Horizon : 96","width":359,"height":93,
"transform":[{"filter":"isValid(datum.a)"}],
"encoding":{"x":{"field":"a","type":"quantitative","scale":{"domain":[0.7526,1.0118],"nice":false,"zero":false},"axis":{"values":[0.8,0.85,0.9,0.95,1],"tickCount":12,"format":".2f","title":null,"labelOverlap":false}}},
"layer":[
{"mark":{"type":"line","strokeWidth":1.3},"encoding":{"y":{"field":"g1","type":"quantitative","scale":{"domain":[-1.75,0.91],"nice":false,"zero":false},"axis":{"values":[-1.5,-1,-0.5,0,0.5],"tickCount":10,"format":".1f","title":null,"labelOverlap":false}},"color":{"datum":"Ground Truth","scale":{"domain":["Ground Truth","PatchTST","TimeFlow"],"range":["#008000","#8a8a8a","#c4282d"]},"legend":{"title":null,"orient":"none","legendX":244,"legendY":232,"direction":"horizontal","encode":{"symbols":{"update":{"shape":{"signal":"datum.value === 'Ground Truth' ? 'M-1.5,0H1.5' : 'M-1.5,0H1.5M-0.18,0A0.18,0.18,0,1,1,0.18,0A0.18,0.18,0,1,1,-0.18,0'"},"fill":{"signal":"datum.value === 'Ground Truth' ? 'transparent' : (datum.value === 'PatchTST' ? '#8a8a8a' : '#c4282d')"},"strokeDash":{"signal":"datum.value === 'PatchTST' ? [2,1.5] : [1,0]"}}}}}}}},
{"transform":[{"filter":"isValid(datum.p1)"}],"mark":{"type":"line","strokeWidth":0.8,"strokeDash":[2,1.5],"point":{"filled":true,"size":7,"opacity":0.85}},"encoding":{"y":{"field":"p1","type":"quantitative"},"color":{"datum":"PatchTST"}}},
{"transform":[{"filter":"isValid(datum.t1)"}],"mark":{"type":"line","strokeWidth":0.9,"opacity":0.75,"point":{"filled":true,"size":8,"opacity":1}},"encoding":{"y":{"field":"t1","type":"quantitative"},"color":{"datum":"TimeFlow"}}},
{"transform":[{"filter":"datum.a === 0.8418"}],"mark":{"type":"rule","color":"#222","strokeWidth":1.4},"encoding":{"x":{"field":"a","type":"quantitative"}}}
]},
{"title":"Sample : 38 Horizon : 96","width":358,"height":93,
"transform":[{"filter":"isValid(datum.a)"}],
"encoding":{"x":{"field":"a","type":"quantitative","scale":{"domain":[0.7526,1.0118],"nice":false,"zero":false},"axis":{"values":[0.8,0.85,0.9,0.95,1],"tickCount":12,"format":".2f","title":null,"labelOverlap":false}}},
"layer":[
{"mark":{"type":"line","strokeWidth":1.3},"encoding":{"y":{"field":"g2","type":"quantitative","scale":{"domain":[-2.13,1.82],"nice":false,"zero":false},"axis":{"values":[-2,-1,0,1],"tickCount":10,"format":"d","title":null,"labelOverlap":false}},"color":{"datum":"Ground Truth"}}},
{"transform":[{"filter":"isValid(datum.p2)"}],"mark":{"type":"line","strokeWidth":0.8,"strokeDash":[2,1.5],"point":{"filled":true,"size":7,"opacity":0.85}},"encoding":{"y":{"field":"p2","type":"quantitative"},"color":{"datum":"PatchTST"}}},
{"transform":[{"filter":"isValid(datum.t2)"}],"mark":{"type":"line","strokeWidth":0.9,"opacity":0.75,"point":{"filled":true,"size":8,"opacity":1}},"encoding":{"y":{"field":"t2","type":"quantitative"},"color":{"datum":"TimeFlow"}}},
{"transform":[{"filter":"datum.a === 0.8418"}],"mark":{"type":"rule","color":"#222","strokeWidth":1.4},"encoding":{"x":{"field":"a","type":"quantitative"}}}
]},
{"title":"Sample : 24 Horizon : 192","width":359,"height":93,
"encoding":{"x":{"field":"b","type":"quantitative","scale":{"domain":[0.643,1.017],"nice":false,"zero":false},"axis":{"values":[0.65,0.7,0.75,0.8,0.85,0.9,0.95,1],"tickCount":12,"format":".2f","title":null,"labelOverlap":false}}},
"layer":[
{"mark":{"type":"line","strokeWidth":1.3},"encoding":{"y":{"field":"g1","type":"quantitative","scale":{"domain":[-1.77,0.86],"nice":false,"zero":false},"axis":{"values":[-1.5,-1,-0.5,0,0.5],"tickCount":10,"format":".1f","title":null,"labelOverlap":false}},"color":{"datum":"Ground Truth"}}},
{"transform":[{"filter":"isValid(datum.q1)"}],"mark":{"type":"line","strokeWidth":0.8,"strokeDash":[2,1.5],"point":{"filled":true,"size":7,"opacity":0.85}},"encoding":{"y":{"field":"q1","type":"quantitative"},"color":{"datum":"PatchTST"}}},
{"transform":[{"filter":"isValid(datum.r1)"}],"mark":{"type":"line","strokeWidth":0.9,"opacity":0.75,"point":{"filled":true,"size":8,"opacity":1}},"encoding":{"y":{"field":"r1","type":"quantitative"},"color":{"datum":"TimeFlow"}}},
{"transform":[{"filter":"datum.b === 0.7269"}],"mark":{"type":"rule","color":"#222","strokeWidth":1.4},"encoding":{"x":{"field":"b","type":"quantitative"}}}
]},
{"title":"Sample : 38 Horizon : 192","width":358,"height":93,
"encoding":{"x":{"field":"b","type":"quantitative","scale":{"domain":[0.643,1.017],"nice":false,"zero":false},"axis":{"values":[0.65,0.7,0.75,0.8,0.85,0.9,0.95,1],"tickCount":12,"format":".2f","title":null,"labelOverlap":false}}},
"layer":[
{"mark":{"type":"line","strokeWidth":1.3},"encoding":{"y":{"field":"g2","type":"quantitative","scale":{"domain":[-2.16,1.72],"nice":false,"zero":false},"axis":{"values":[-2,-1,0,1],"tickCount":10,"format":"d","title":null,"labelOverlap":false}},"color":{"datum":"Ground Truth"}}},
{"transform":[{"filter":"isValid(datum.q2)"}],"mark":{"type":"line","strokeWidth":0.8,"strokeDash":[2,1.5],"point":{"filled":true,"size":7,"opacity":0.85}},"encoding":{"y":{"field":"q2","type":"quantitative"},"color":{"datum":"PatchTST"}}},
{"transform":[{"filter":"isValid(datum.r2)"}],"mark":{"type":"line","strokeWidth":0.9,"opacity":0.75,"point":{"filled":true,"size":8,"opacity":1}},"encoding":{"y":{"field":"r2","type":"quantitative"},"color":{"datum":"TimeFlow"}}},
{"transform":[{"filter":"datum.b === 0.7269"}],"mark":{"type":"rule","color":"#222","strokeWidth":1.4},"encoding":{"x":{"field":"b","type":"quantitative"}}}
]}
]
}
